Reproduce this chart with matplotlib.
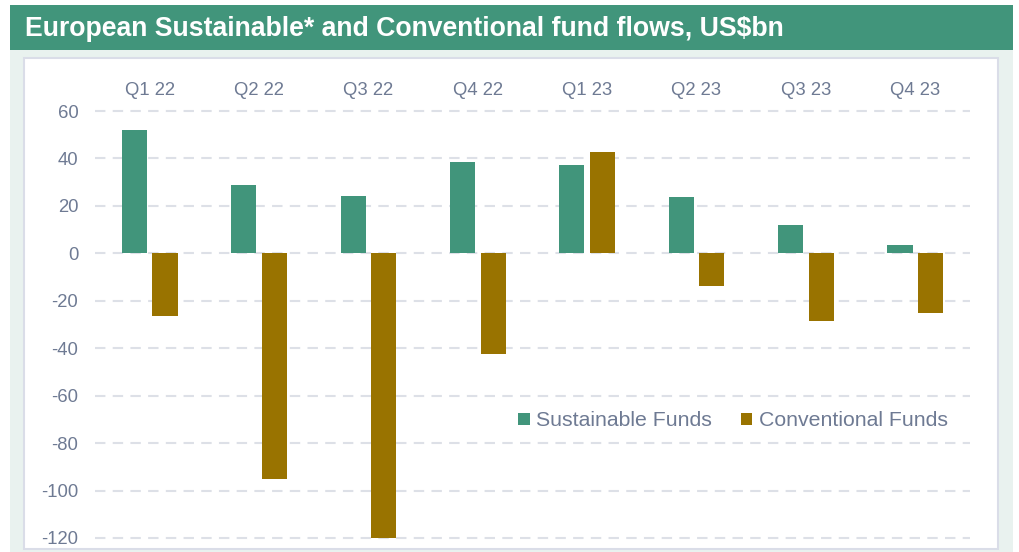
import numpy as np
import matplotlib
matplotlib.use('Agg')
import matplotlib.pyplot as plt
from matplotlib.patches import Rectangle

quarters = ["Q1 22", "Q2 22", "Q3 22", "Q4 22", "Q1 23", "Q2 23", "Q3 23", "Q4 23"]
sustainable = [52, 29, 24, 38.5, 37.2, 23.7, 12, 3.5]
conventional = [-26.4, -95.2, -120, -42.5, 42.7, -13.8, -28.5, -25]
yticks = [60, 40, 20, 0, -20, -40, -60, -80, -100, -120]

GREEN = "#41957B"
BROWN = "#997300"
TEXT = "#6E7A93"
GRID = "#DDE0E7"
BG = "#E9F2EF"

plt.rcParams['font.family'] = ['Liberation Sans', 'DejaVu Sans']

W, H = 1020, 552
fig = plt.figure(figsize=(W / 100, H / 100), dpi=100)
fig.patch.set_facecolor("white")

# background panels (figure pixel coords, y from top)
def px_rect(x0, y0, x1, y1, **kw):
    fig.patches.append(Rectangle((x0 / W, 1 - y1 / H), (x1 - x0) / W, (y1 - y0) / H,
                                 transform=fig.transFigure, figure=fig, **kw))

px_rect(10, 5, 1013, 552, facecolor=BG, edgecolor="none", zorder=-3)
px_rect(10, 5, 1013, 50, facecolor=GREEN, edgecolor="none", zorder=-2)
px_rect(24, 58, 998, 549, facecolor="white", edgecolor="#DADDE8", linewidth=1.5, zorder=-2)

fig.text(25 / W, 1 - 29 / H, "European Sustainable* and Conventional fund flows, US$bn",
         color="white", fontsize=19.2, fontweight="bold", va="center", ha="left")

ax = fig.add_axes([95 / W, 1 - 542.7 / H, 875 / W, (542.7 - 106.3) / H])
ax.set_facecolor("none")
ax.set_zorder(2)

x = np.arange(len(quarters))
bw = 0.23
off = 0.14
ax.bar(x - off, sustainable, bw, color=GREEN, label="Sustainable Funds", zorder=3)
ax.bar(x + off, conventional, bw, color=BROWN, label="Conventional Funds", zorder=3)

ax.set_xlim(-0.5, 7.5)
ax.set_ylim(-122, 62)
ax.set_yticks(yticks)
ax.set_yticklabels([str(v) for v in yticks])
ax.set_xticks(x)
ax.set_xticklabels(quarters)
ax.xaxis.tick_top()
ax.tick_params(axis="x", length=0, pad=5, labelsize=13.3, labelcolor=TEXT)
ax.tick_params(axis="y", length=0, pad=12, labelsize=13.3, labelcolor=TEXT)

for s in ax.spines.values():
    s.set_visible(False)
ax.yaxis.grid(True, color=GRID, linewidth=1.5, linestyle=(0, (5, 3.5)), zorder=0)
ax.set_axisbelow(True)

leg = ax.legend(loc="center", bbox_to_anchor=(0.729, 0.279), ncol=2, frameon=False,
                fontsize=15.3, handlelength=0.55, handleheight=0.55, handletextpad=0.3,
                columnspacing=1.35)
for t in leg.get_texts():
    t.set_color(TEXT)

fig.savefig("out.png", dpi=100, facecolor=fig.get_facecolor())
